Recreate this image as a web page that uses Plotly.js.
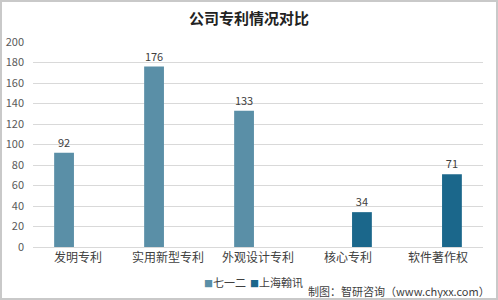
<!DOCTYPE html>
<html>
<head>
<meta charset="utf-8">
<script src="https://cdn.plot.ly/plotly-3.0.1.min.js"></script>
<style>
html,body{margin:0;padding:0;background:#fff;}
#chart{width:498px;height:300px;box-sizing:border-box;border:2px solid #c9c9c9;}
</style>
</head>
<body>
<div id="chart"></div>
<script>
const categories = ['发明专利','实用新型专利','外观设计专利','核心专利','软件著作权'];
const seriesA = '七一二';
const seriesB = '上海翰讯';
const valuesA = [92, 176, 133, null, null];
const valuesB = [null, null, null, 34, 71];
const yTicks = [0,20,40,60,80,100,120,140,160,180,200];
const colorA = '#5a8fa7';
const colorB = '#1b678b';

const fontFam = '"Noto Sans CJK SC", "Open Sans", sans-serif';
const data = [
  {type:'bar', name:seriesA, x:categories, y:valuesA, marker:{color:colorA},
   text:valuesA.map(v=>v==null?'':String(v)), textposition:'outside', cliponaxis:false,
   textfont:{size:11,color:'#404040',family:fontFam}},
  {type:'bar', name:seriesB, x:categories, y:valuesB, marker:{color:colorB},
   text:valuesB.map(v=>v==null?'':String(v)), textposition:'outside', cliponaxis:false,
   textfont:{size:11,color:'#404040',family:fontFam}}
];
function legendItem(name, color, x){
  return {text:'<span style="color:'+color+';font-size:9px">■</span>'+name,
    xref:'paper', yref:'paper', x:x, xanchor:'left', y:-0.173, yanchor:'middle',
    showarrow:false, font:{size:11,color:'#404040'}};
}
const layout = {
  width:494, height:296,
  margin:{l:31,r:13,t:40,b:51},
  paper_bgcolor:'#fff', plot_bgcolor:'#fff',
  font:{family:fontFam, color:'#404040'},
  title:{text:'<b>公司专利情况对比</b>', x:0.5, xanchor:'center', y:0.943, yanchor:'middle',
    font:{size:15,color:'#222',family:fontFam}},
  barmode:'group', bargap:0.38, bargroupgap:0.29,
  xaxis:{type:'category', showgrid:false, showline:true, linecolor:'#d9d9d9', linewidth:1,
    ticks:'', tickfont:{size:12,color:'#404040'}, fixedrange:true},
  yaxis:{range:[0,200], tickvals:yTicks, showgrid:true, gridcolor:'#d9d9d9', gridwidth:1,
    zeroline:false, showline:false, ticks:'', ticklabelstandoff:8,
    tickfont:{size:11,color:'#595959'}, fixedrange:true},
  showlegend:false,
  annotations:[
    legendItem(seriesA, colorA, 0.376),
    legendItem(seriesB, colorB, 0.478),
    {text:'制图：智研咨询（www.chyxx.com）', xref:'paper', yref:'paper',
    x:1.02, xanchor:'right', y:-0.217, yanchor:'middle', showarrow:false,
    font:{size:11,color:'#404040'}}]
};
Plotly.newPlot('chart', data, layout, {displayModeBar:false, staticPlot:true});
</script>
</body>
</html>
